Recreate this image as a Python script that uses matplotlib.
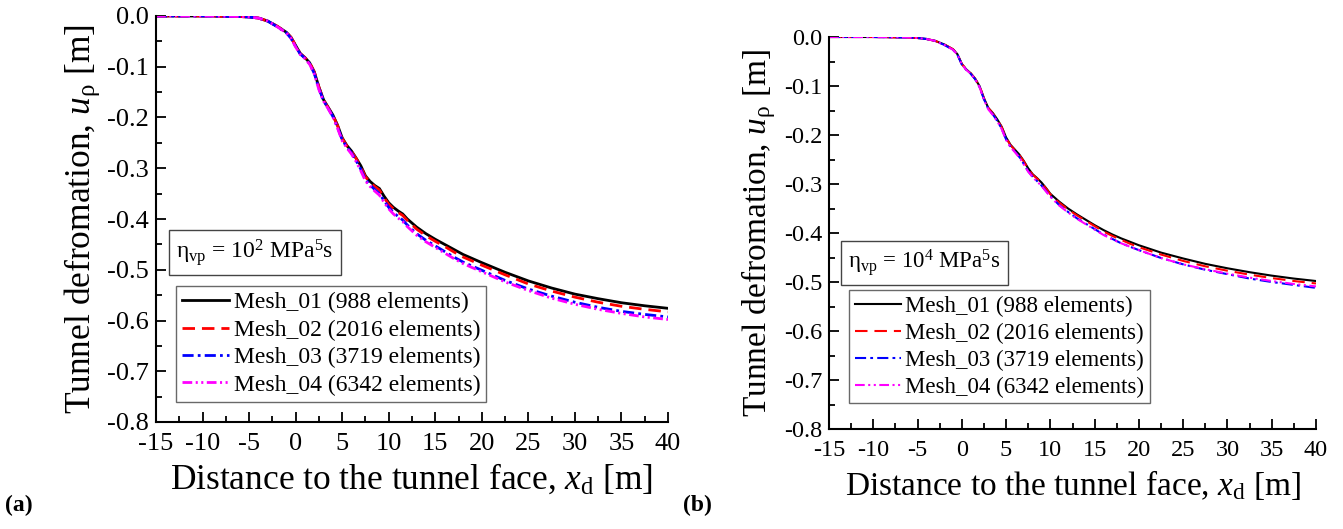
import matplotlib
matplotlib.use("Agg")
import matplotlib.pyplot as plt
from matplotlib.ticker import MultipleLocator, FormatStrFormatter

plt.rcParams["font.family"] = ["Liberation Serif", "DejaVu Serif"]
plt.rcParams["mathtext.fontset"] = "custom"
plt.rcParams["mathtext.rm"] = "Liberation Serif"
plt.rcParams["mathtext.it"] = "Liberation Serif:italic"
plt.rcParams["axes.unicode_minus"] = False
plt.rcParams["lines.scale_dashes"] = False

# distance to tunnel face [m]
x_d = [-15, -10, -6, -5, -4, -3, -2, -1, -0.5, 0, 0.5, 1, 1.5, 2, 2.5, 3, 3.5, 4,
       4.5, 5, 5.5, 6, 6.5, 7, 7.5, 8, 8.5, 9, 9.5, 10, 10.5, 11, 11.5, 12,
       13, 14, 15, 16, 17, 18, 19, 20, 22.5, 25, 27.5, 30, 32.5, 35, 37.5, 40]

# (a) eta_vp = 10^2 MPa^5 s
a_mesh01 = [0, 0, -0.001, -0.002, -0.004, -0.010, -0.020, -0.032, -0.042, -0.058, -0.074, -0.082,
            -0.092, -0.110, -0.140, -0.165, -0.180, -0.195, -0.215, -0.240, -0.255, -0.266,
            -0.280, -0.295, -0.315, -0.326, -0.334, -0.340, -0.355, -0.368, -0.377, -0.384,
            -0.390, -0.400, -0.416, -0.429, -0.440, -0.450, -0.460, -0.470, -0.478, -0.486,
            -0.505, -0.522, -0.536, -0.548, -0.557, -0.565, -0.571, -0.576]
a_mesh02 = [0, 0, -0.001, -0.002, -0.004, -0.010, -0.020, -0.032, -0.042, -0.058, -0.074, -0.082,
            -0.092, -0.110, -0.140, -0.166, -0.181, -0.196, -0.216, -0.241, -0.256, -0.267,
            -0.281, -0.297, -0.317, -0.328, -0.336, -0.343, -0.358, -0.371, -0.380, -0.387,
            -0.393, -0.403, -0.420, -0.433, -0.444, -0.454, -0.465, -0.475, -0.483, -0.491,
            -0.510, -0.528, -0.542, -0.554, -0.564, -0.572, -0.578, -0.583]
a_mesh03 = [0, 0, -0.001, -0.002, -0.004, -0.010, -0.021, -0.033, -0.044, -0.060, -0.075, -0.083,
            -0.094, -0.113, -0.143, -0.167, -0.182, -0.198, -0.219, -0.244, -0.258, -0.270,
            -0.285, -0.302, -0.322, -0.333, -0.342, -0.350, -0.364, -0.377, -0.387, -0.395,
            -0.402, -0.412, -0.429, -0.442, -0.453, -0.464, -0.475, -0.485, -0.493, -0.501,
            -0.521, -0.538, -0.552, -0.564, -0.574, -0.582, -0.588, -0.593]
a_mesh04 = [0, 0, -0.001, -0.002, -0.004, -0.010, -0.021, -0.033, -0.044, -0.061, -0.076, -0.084,
            -0.095, -0.114, -0.145, -0.168, -0.183, -0.199, -0.221, -0.246, -0.260, -0.272,
            -0.287, -0.305, -0.325, -0.336, -0.345, -0.353, -0.367, -0.380, -0.390, -0.398,
            -0.405, -0.415, -0.432, -0.445, -0.456, -0.467, -0.478, -0.488, -0.496, -0.504,
            -0.524, -0.541, -0.556, -0.568, -0.578, -0.586, -0.593, -0.598]

# (b) eta_vp = 10^4 MPa^5 s
b_mesh01 = [0, 0, -0.001, -0.002, -0.004, -0.008, -0.015, -0.025, -0.035, -0.055, -0.066, -0.074,
            -0.085, -0.100, -0.125, -0.145, -0.155, -0.168, -0.183, -0.205, -0.220, -0.230,
            -0.240, -0.253, -0.268, -0.280, -0.288, -0.297, -0.308, -0.320, -0.328, -0.336,
            -0.343, -0.350, -0.362, -0.373, -0.384, -0.394, -0.403, -0.411, -0.418, -0.425,
            -0.440, -0.452, -0.463, -0.472, -0.480, -0.487, -0.493, -0.498]
b_mesh02 = [0, 0, -0.001, -0.002, -0.004, -0.008, -0.015, -0.025, -0.035, -0.055, -0.066, -0.074,
            -0.085, -0.100, -0.125, -0.145, -0.156, -0.169, -0.184, -0.206, -0.221, -0.231,
            -0.241, -0.254, -0.269, -0.281, -0.289, -0.298, -0.309, -0.321, -0.330, -0.338,
            -0.345, -0.352, -0.364, -0.375, -0.386, -0.397, -0.406, -0.414, -0.422, -0.429,
            -0.444, -0.457, -0.468, -0.477, -0.485, -0.492, -0.498, -0.503]
b_mesh03 = [0, 0, -0.001, -0.002, -0.004, -0.008, -0.016, -0.026, -0.036, -0.056, -0.067, -0.075,
            -0.086, -0.102, -0.127, -0.147, -0.158, -0.171, -0.187, -0.209, -0.224, -0.234,
            -0.245, -0.259, -0.274, -0.285, -0.294, -0.303, -0.314, -0.325, -0.334, -0.343,
            -0.350, -0.357, -0.370, -0.381, -0.392, -0.403, -0.412, -0.421, -0.428, -0.435,
            -0.451, -0.464, -0.475, -0.484, -0.493, -0.500, -0.506, -0.512]
b_mesh04 = [0, 0, -0.001, -0.002, -0.004, -0.008, -0.016, -0.026, -0.036, -0.056, -0.067, -0.075,
            -0.086, -0.102, -0.128, -0.148, -0.159, -0.172, -0.188, -0.210, -0.225, -0.235,
            -0.246, -0.260, -0.275, -0.286, -0.295, -0.304, -0.315, -0.326, -0.335, -0.344,
            -0.351, -0.358, -0.371, -0.382, -0.393, -0.404, -0.413, -0.421, -0.428, -0.435,
            -0.451, -0.464, -0.474, -0.483, -0.491, -0.498, -0.504, -0.509]

labels = ["Mesh_01 (988 elements)", "Mesh_02 (2016 elements)",
          "Mesh_03 (3719 elements)", "Mesh_04 (6342 elements)"]
colors = ["black", "red", "blue", "magenta"]
dashes = [(None, None), (9, 5), (8, 3, 2, 3), (7, 2.5, 1.5, 2.5, 1.5, 2.5)]

fig = plt.figure(figsize=(13.43, 5.29), dpi=100)
W, H = 1343, 529


def add_axes(left, right, top, bottom):
    return fig.add_axes([left / W, 1 - bottom / H, (right - left) / W, (bottom - top) / H])


ax_a = add_axes(156, 668, 16, 422)
ax_b = add_axes(829, 1316, 37, 429)

# axes, series, exponent, line width, tick size, label size, legend size, box centre, legend corner
panels = [
    (ax_a, [a_mesh01, a_mesh02, a_mesh03, a_mesh04], "2", 2.0, 19, 25.5, 17,
     (0.193, 0.4175), (0.039, 0.335)),
    (ax_b, [b_mesh01, b_mesh02, b_mesh03, b_mesh04], "4", 1.5, 17.5, 24, 16.5,
     (0.196, 0.4235), (0.041, 0.3546)),
]

for ax, series, expo, lw, tfs, lfs, gfs, txt_pos, leg_pos in panels:
    for ys, c, d, lab in zip(series, colors, dashes, labels):
        line, = ax.plot(x_d, ys, color=c, lw=lw, label=lab)
        if d[0] is not None:
            line.set_dashes(d)
    ax.set_xlim(-15, 40)
    ax.set_ylim(-0.8, 0.0)
    ax.xaxis.set_major_locator(MultipleLocator(5))
    ax.xaxis.set_minor_locator(MultipleLocator(2.5))
    ax.yaxis.set_major_locator(MultipleLocator(0.1))
    ax.yaxis.set_minor_locator(MultipleLocator(0.05))
    ax.yaxis.set_major_formatter(FormatStrFormatter("%.1f"))
    ax.spines["top"].set_visible(False)
    ax.spines["right"].set_visible(False)
    for s in ("left", "bottom"):
        ax.spines[s].set_linewidth(1.5)
    ax.tick_params(which="major", direction="in", length=7, width=1.3, labelsize=tfs)
    ax.tick_params(which="minor", direction="in", length=4, width=1.3)
    ax.tick_params(axis="x", which="major", pad=8)
    ax.tick_params(axis="y", which="major", pad=5)
    ax.set_xlabel("Distance to the tunnel face, $\\mathit{x}_{\\mathrm{d}}$ [m]", fontsize=lfs, labelpad=5)
    ax.set_ylabel("Tunnel defromation, $\\mathit{u}_{\\mathrm{ρ}}$ [m]", fontsize=lfs, labelpad=4)
    ax.text(txt_pos[0], txt_pos[1],
            "η$_{\\mathrm{vp}}$ = 10$^{" + expo + "}$ MPa$^{5}$s",
            transform=ax.transAxes, ha="center", va="center", fontsize=gfs,
            bbox=dict(boxstyle="square,pad=0.3", fc="white", ec="#444444", lw=1))
    leg = ax.legend(loc="upper left", bbox_to_anchor=leg_pos, borderaxespad=0,
                    fontsize=gfs, handlelength=2.0, handletextpad=0.2,
                    labelspacing=0.25, borderpad=0.25, fancybox=False, frameon=True)
    leg.get_frame().set_edgecolor("#444444")
    leg.get_frame().set_linewidth(1)

fig.text(5 / W, 1 - 505 / H, "(a)", fontsize=17, fontweight="bold", va="center")
fig.text(683 / W, 1 - 505 / H, "(b)", fontsize=17, fontweight="bold", va="center")

fig.savefig("out.png", dpi=100)
